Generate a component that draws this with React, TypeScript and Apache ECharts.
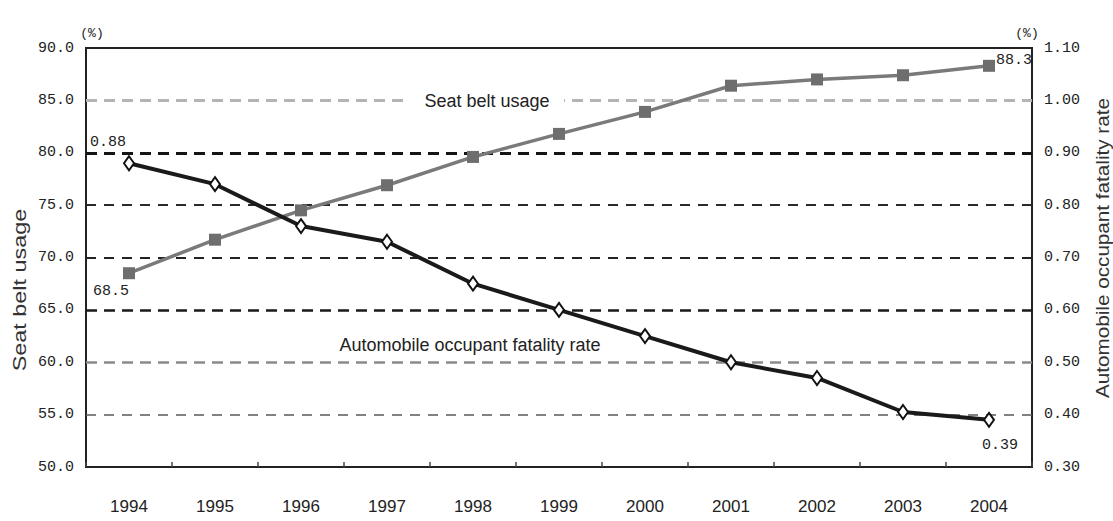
import React, { useEffect, useRef } from "react";
import * as echarts from "echarts";

const years = ["1994", "1995", "1996", "1997", "1998", "1999", "2000", "2001", "2002", "2003", "2004"];
const seatBeltUsage = [68.5, 71.7, 74.5, 76.9, 79.6, 81.8, 83.9, 86.4, 87.0, 87.4, 88.3];
const fatalityRate = [0.88, 0.84, 0.76, 0.73, 0.65, 0.6, 0.55, 0.5, 0.47, 0.405, 0.39];
const leftTicks = { min: 50, max: 90, step: 5 };
const rightTicks = { min: 0.3, max: 1.1, step: 0.1 };
const gridLevels = [85, 80, 75, 70, 65, 60, 55];

const numFont = "'Liberation Mono', 'DejaVu Sans Mono', monospace";
const textFont = "'Liberation Sans Narrow', 'Liberation Sans', Arial, sans-serif";

const gridStyles: Record<number, any> = {
  85: { color: "#b4b4b4", width: 3, type: [11, 7] },
  80: { color: "#151515", width: 3, type: [11, 7] },
  75: { color: "#2a2a2a", width: 2, type: [10, 8] },
  70: { color: "#222", width: 2, type: [10, 8] },
  65: { color: "#1a1a1a", width: 2.5, type: [11, 7] },
  60: { color: "#8a8a8a", width: 2.5, type: [11, 7] },
  55: { color: "#5a5a5a", width: 1.5, type: [10, 8] },
};

export default function App() {
  const ref = useRef<HTMLDivElement>(null);
  useEffect(() => {
    if (!ref.current) return;
    const chart = echarts.init(ref.current, null, { renderer: "svg" });
    const last = years.length - 1;
    const seatData = seatBeltUsage.map((v, i) => {
      if (i === 0)
        return { value: v, label: { show: true, position: "bottom", offset: [-18, 0], formatter: v.toFixed(1) } };
      if (i === last)
        return { value: v, label: { show: true, position: "right", offset: [-4, -5], formatter: v.toFixed(1) } };
      return v;
    });
    const fatData = fatalityRate.map((v, i) => {
      if (i === 0)
        return { value: v, label: { show: true, position: "top", offset: [-21, 0], formatter: v.toFixed(2) } };
      if (i === last)
        return { value: v, label: { show: true, position: "bottom", offset: [11, 5], formatter: v.toFixed(2) } };
      return v;
    });
    chart.setOption({
      animation: false,
      backgroundColor: "#ffffff",
      grid: { left: 86, right: 81, top: 48, bottom: 54, show: true, borderColor: "#222", borderWidth: 2, backgroundColor: "transparent" },
      xAxis: {
        type: "category",
        data: years,
        boundaryGap: true,
        axisLine: { show: true, lineStyle: { color: "#222", width: 2 } },
        axisTick: { show: true, inside: true, length: 5, lineStyle: { color: "#444", width: 1.5 } },
        axisLabel: { margin: 31, fontSize: 17, color: "#222", fontFamily: textFont },
        splitLine: { show: false },
      },
      yAxis: [
        {
          type: "value",
          min: leftTicks.min,
          max: leftTicks.max,
          interval: leftTicks.step,
          axisLine: { show: true, lineStyle: { color: "#222", width: 2 } },
          axisTick: { show: false },
          splitLine: { show: false },
          axisLabel: { margin: 12, fontSize: 15, color: "#222", fontFamily: numFont, formatter: (v: number) => v.toFixed(1) },
        },
        {
          type: "value",
          min: rightTicks.min,
          max: rightTicks.max,
          interval: rightTicks.step,
          axisLine: { show: true, lineStyle: { color: "#222", width: 2 } },
          axisTick: { show: false },
          splitLine: { show: false },
          axisLabel: { margin: 12, fontSize: 15, color: "#222", fontFamily: numFont, formatter: (v: number) => v.toFixed(2) },
        },
      ],
      series: [
        {
          name: "Seat belt usage",
          type: "line",
          yAxisIndex: 0,
          data: seatData,
          symbol: "rect",
          symbolSize: 12,
          z: 3,
          lineStyle: { color: "#7a7a7a", width: 3.5 },
          itemStyle: { color: "#6e6e6e" },
          label: { fontSize: 15, color: "#222", fontFamily: numFont },
          markLine: {
            silent: true,
            symbol: "none",
            z: 1,
            label: { show: false },
            data: gridLevels.map((lv) => ({ yAxis: lv, lineStyle: gridStyles[lv] })),
          },
        },
        {
          name: "Automobile occupant fatality rate",
          type: "line",
          yAxisIndex: 1,
          data: fatData,
          symbol: "diamond",
          symbolSize: [10, 14],
          z: 4,
          lineStyle: { color: "#1a1a1a", width: 4 },
          itemStyle: { color: "#ffffff", borderColor: "#111", borderWidth: 2 },
          label: { fontSize: 15, color: "#222", fontFamily: numFont },
        },
      ],
      graphic: [
        { type: "rect", shape: { x: 410, y: 90, width: 154, height: 22 }, style: { fill: "#fff" }, z: 10 },
        { type: "text", x: 487, y: 101, z: 11, style: { text: "Seat belt usage", font: `18px ${textFont}`, fill: "#222", align: "center", verticalAlign: "middle" } },
        { type: "text", x: 470, y: 345, z: 11, style: { text: "Automobile occupant fatality rate", font: `18px ${textFont}`, fill: "#222", align: "center", verticalAlign: "middle" } },
        { type: "text", x: 20, y: 290, rotation: Math.PI / 2, scaleX: 1.3, z: 11, style: { text: "Seat belt usage", font: `18px ${textFont}`, fill: "#333", align: "center", verticalAlign: "middle" } },
        { type: "text", x: 1103, y: 248, rotation: Math.PI / 2, scaleX: 1.15, z: 11, style: { text: "Automobile occupant fatality rate", font: `18px ${textFont}`, fill: "#333", align: "center", verticalAlign: "middle" } },
        { type: "text", x: 92, y: 33, z: 11, style: { text: "(%)", font: `13px ${numFont}`, fill: "#222", align: "center", verticalAlign: "middle" } },
        { type: "text", x: 1027, y: 33, z: 11, style: { text: "(%)", font: `13px ${numFont}`, fill: "#222", align: "center", verticalAlign: "middle" } },
      ],
    });
    return () => chart.dispose();
  }, []);
  return <div ref={ref} style={{ position: "fixed", left: 0, top: 0, width: 1113, height: 521 }} />;
}
